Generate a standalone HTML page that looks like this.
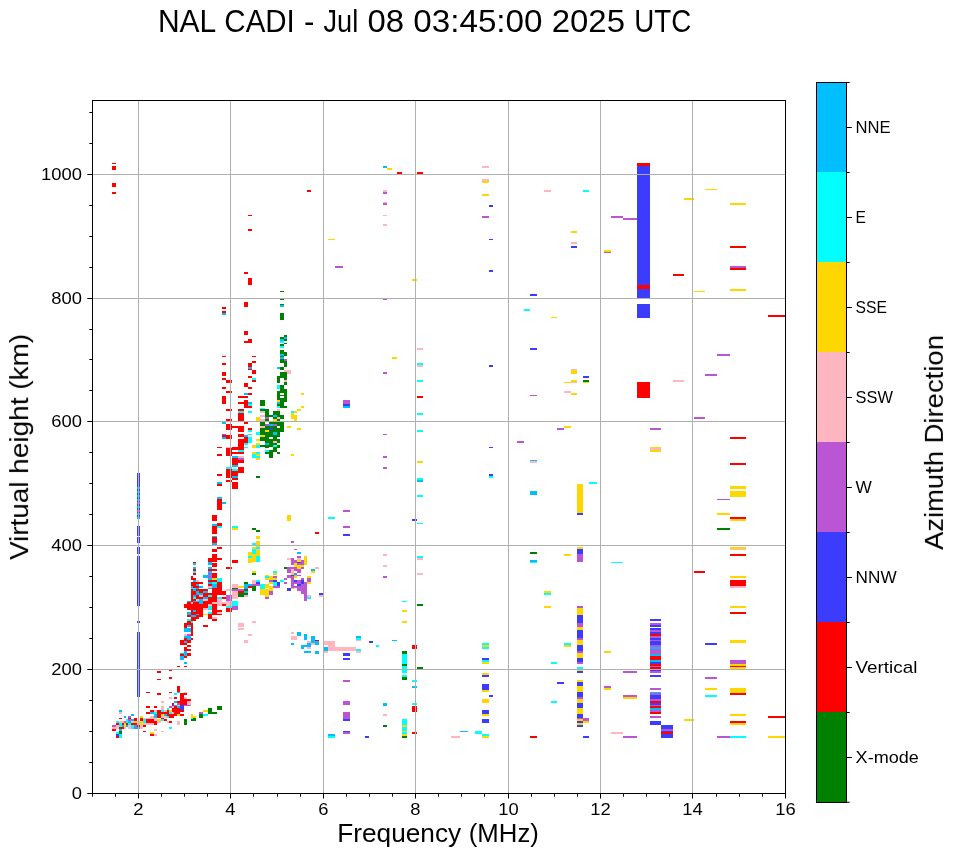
<!DOCTYPE html>
<html lang="en"><head><meta charset="utf-8"><title>NAL CADI - Jul 08 03:45:00 2025 UTC</title>
<style>
html,body{margin:0;padding:0;background:#fff;}
body{width:958px;height:857px;overflow:hidden;font-family:"Liberation Sans",sans-serif;}
svg{display:block;}
</style></head><body>
<svg width="958" height="857" viewBox="0 0 958 857">
<rect x="0" y="0" width="958" height="857" fill="#fff"/>
<g id="data" shape-rendering="crispEdges">
<path fill="#ff0000" d="M112 163h4v1h-4zM112 166h4v4h-4zM112 183h4v4h-4zM112 192h4v2h-4zM307 190h4v2h-4zM248 215h4v1h-4zM248 229h4v2h-4zM244 272h4v2h-4zM248 278h4v7h-4z"/>
<path fill="#008000" d="M280 291h4v1h-4z"/>
<path fill="#ffd700" d="M328 239h7v1h-7z"/>
<path fill="#ba55d3" d="M335 266h8v2h-8z"/>
<path fill="#00bfff" d="M383 166h4v2h-4z"/>
<path fill="#ffd700" d="M387 168h5v2h-5z"/>
<path fill="#ffb6c1" d="M383 190h4v2h-4z"/>
<path fill="#ba55d3" d="M383 192h4v2h-4z"/>
<path fill="#ffb6c1" d="M383 202h4v1h-4z"/>
<path fill="#ba55d3" d="M383 203h4v2h-4z"/>
<path fill="#ffb6c1" d="M383 215h4v1h-4zM383 224h4v2h-4z"/>
<path fill="#ff0000" d="M397 172h5v2h-5zM417 172h6v2h-6z"/>
<path fill="#ffb6c1" d="M482 166h7v2h-7zM482 179h7v2h-7z"/>
<path fill="#ffd700" d="M482 181h7v2h-7zM482 194h7v2h-7z"/>
<path fill="#3c3cff" d="M489 205h4v2h-4z"/>
<path fill="#ba55d3" d="M482 216h7v2h-7z"/>
<path fill="#3c3cff" d="M489 239h4v1h-4zM489 270h4v2h-4z"/>
<path fill="#ffd700" d="M412 279h5v2h-5z"/>
<path fill="#ffb6c1" d="M544 190h7v2h-7z"/>
<path fill="#00ffff" d="M583 190h6v2h-6z"/>
<path fill="#ba55d3" d="M611 216h12v2h-12zM623 218h14v2h-14z"/>
<path fill="#ffd700" d="M571 231h6v2h-6z"/>
<path fill="#ffb6c1" d="M571 242h6v2h-6z"/>
<path fill="#3c3cff" d="M571 246h6v2h-6z"/>
<path fill="#ffd700" d="M604 250h7v2h-7z"/>
<path fill="#ba55d3" d="M604 252h7v1h-7z"/>
<path fill="#ffd700" d="M705 189h12v1h-12zM684 198h10v2h-10zM730 203h16v2h-16z"/>
<path fill="#ff0000" d="M730 246h16v2h-16z"/>
<path fill="#ba55d3" d="M730 266h16v2h-16z"/>
<path fill="#ff0000" d="M730 268h16v2h-16zM673 274h11v2h-11z"/>
<path fill="#ffd700" d="M730 289h16v2h-16zM694 291h11v1h-11z"/>
<path fill="#3c3cff" d="M637 166h13v132h-13z"/>
<path fill="#ff0000" d="M637 163h13v3h-13zM637 285h13v4h-13z"/>
<path fill="#3c3cff" d="M637 304h13v14h-13z"/>
<path fill="#ff0000" d="M637 382h13v16h-13zM768 315h18v2h-18z"/>
<path fill="#ba55d3" d="M717 354h13v2h-13zM705 374h12v2h-12z"/>
<path fill="#ffb6c1" d="M673 380h11v2h-11z"/>
<path fill="#ba55d3" d="M694 417h11v2h-11zM650 428h11v2h-11z"/>
<path fill="#ffd700" d="M650 447h11v5h-11z"/>
<path fill="#ffb6c1" d="M650 448h11v2h-11z"/>
<path fill="#ff0000" d="M730 437h16v2h-16zM730 463h16v2h-16z"/>
<path fill="#ffd700" d="M730 486h16v3h-16zM730 491h16v6h-16z"/>
<path fill="#ba55d3" d="M717 499h13v1h-13z"/>
<path fill="#ffd700" d="M717 513h13v2h-13z"/>
<path fill="#ff0000" d="M730 517h16v2h-16z"/>
<path fill="#ffd700" d="M730 519h16v2h-16z"/>
<path fill="#008000" d="M717 528h13v2h-13z"/>
<path fill="#ffd700" d="M730 547h16v2h-16z"/>
<path fill="#ffb6c1" d="M730 549h16v1h-16z"/>
<path fill="#ff0000" d="M730 554h16v2h-16z"/>
<path fill="#ffd700" d="M730 576h16v2h-16z"/>
<path fill="#ff0000" d="M730 580h16v6h-16z"/>
<path fill="#ffb6c1" d="M730 586h16v2h-16z"/>
<path fill="#ffd700" d="M730 606h16v2h-16z"/>
<path fill="#ff0000" d="M730 612h16v2h-16z"/>
<path fill="#ffd700" d="M730 640h16v3h-16z"/>
<path fill="#ba55d3" d="M730 660h16v4h-16z"/>
<path fill="#ffd700" d="M730 664h16v5h-16z"/>
<path fill="#ff0000" d="M730 666h16v1h-16zM694 571h11v2h-11z"/>
<path fill="#3c3cff" d="M705 643h12v2h-12z"/>
<path fill="#ba55d3" d="M705 677h12v2h-12z"/>
<path fill="#ffd700" d="M705 688h12v2h-12z"/>
<path fill="#3c3cff" d="M650 619h11v2h-11z"/>
<path fill="#ba55d3" d="M650 623h11v2h-11z"/>
<path fill="#3c3cff" d="M650 625h11v2h-11zM650 628h11v2h-11z"/>
<path fill="#ba55d3" d="M650 630h11v2h-11z"/>
<path fill="#3c3cff" d="M650 632h11v2h-11z"/>
<path fill="#ff0000" d="M650 634h11v2h-11z"/>
<path fill="#ba55d3" d="M650 636h11v2h-11z"/>
<path fill="#3c3cff" d="M650 638h11v2h-11z"/>
<path fill="#ba55d3" d="M650 640h11v1h-11z"/>
<path fill="#3c3cff" d="M650 641h11v4h-11z"/>
<path fill="#ba55d3" d="M650 645h11v2h-11z"/>
<path fill="#00bfff" d="M650 647h11v2h-11z"/>
<path fill="#ba55d3" d="M650 649h11v5h-11z"/>
<path fill="#00bfff" d="M650 654h11v2h-11z"/>
<path fill="#ff0000" d="M650 656h11v4h-11z"/>
<path fill="#00bfff" d="M650 660h11v2h-11z"/>
<path fill="#3c3cff" d="M650 662h11v2h-11z"/>
<path fill="#ff0000" d="M650 664h11v2h-11z"/>
<path fill="#ba55d3" d="M650 666h11v1h-11z"/>
<path fill="#ff0000" d="M650 667h11v2h-11z"/>
<path fill="#3c3cff" d="M650 670h11v1h-11z"/>
<path fill="#ba55d3" d="M650 671h11v2h-11z"/>
<path fill="#3c3cff" d="M650 675h11v2h-11z"/>
<path fill="#ba55d3" d="M623 671h14v2h-14z"/>
<path fill="#ffd700" d="M730 688h16v5h-16z"/>
<path fill="#ff0000" d="M730 693h16v2h-16z"/>
<path fill="#ffd700" d="M730 714h16v2h-16z"/>
<path fill="#ff0000" d="M730 721h16v2h-16z"/>
<path fill="#ffd700" d="M730 723h16v2h-16z"/>
<path fill="#00ffff" d="M730 736h16v2h-16z"/>
<path fill="#ba55d3" d="M717 736h13v2h-13z"/>
<path fill="#00ffff" d="M705 695h12v2h-12z"/>
<path fill="#ffd700" d="M684 719h10v2h-10z"/>
<path fill="#ff0000" d="M768 716h18v2h-18z"/>
<path fill="#ffd700" d="M768 736h18v2h-18z"/>
<path fill="#ba55d3" d="M650 688h11v2h-11z"/>
<path fill="#00bfff" d="M650 692h11v1h-11z"/>
<path fill="#ba55d3" d="M650 693h11v2h-11z"/>
<path fill="#3c3cff" d="M650 695h11v4h-11z"/>
<path fill="#ba55d3" d="M650 699h11v2h-11z"/>
<path fill="#ff0000" d="M650 701h11v2h-11z"/>
<path fill="#3c3cff" d="M650 703h11v2h-11z"/>
<path fill="#ba55d3" d="M650 705h11v1h-11z"/>
<path fill="#ff0000" d="M650 706h11v2h-11z"/>
<path fill="#00bfff" d="M650 708h11v2h-11z"/>
<path fill="#ba55d3" d="M650 710h11v2h-11z"/>
<path fill="#ff0000" d="M650 712h11v2h-11z"/>
<path fill="#ba55d3" d="M650 716h11v2h-11z"/>
<path fill="#3c3cff" d="M650 721h11v4h-11zM661 725h12v13h-12z"/>
<path fill="#ba55d3" d="M661 729h12v2h-12z"/>
<path fill="#ff0000" d="M661 732h12v2h-12z"/>
<path fill="#ba55d3" d="M623 695h14v2h-14z"/>
<path fill="#ffd700" d="M623 697h14v2h-14z"/>
<path fill="#ffb6c1" d="M611 732h12v2h-12z"/>
<path fill="#ba55d3" d="M623 736h14v2h-14z"/>
<path fill="#3c3cff" d="M530 294h7v2h-7z"/>
<path fill="#00ffff" d="M524 309h6v2h-6z"/>
<path fill="#ffd700" d="M551 317h6v1h-6z"/>
<path fill="#3c3cff" d="M530 348h7v2h-7zM489 365h4v2h-4z"/>
<path fill="#ffb6c1" d="M571 369h6v1h-6z"/>
<path fill="#ffd700" d="M571 370h6v4h-6z"/>
<path fill="#3c3cff" d="M583 376h6v2h-6z"/>
<path fill="#008000" d="M583 380h6v2h-6z"/>
<path fill="#ffd700" d="M583 382h6v1h-6zM571 380h6v2h-6z"/>
<path fill="#ffb6c1" d="M571 382h6v1h-6z"/>
<path fill="#ffd700" d="M564 382h7v1h-7z"/>
<path fill="#ffb6c1" d="M564 391h7v2h-7z"/>
<path fill="#ffd700" d="M571 393h6v2h-6z"/>
<path fill="#ba55d3" d="M530 395h7v1h-7z"/>
<path fill="#ffd700" d="M564 426h7v2h-7z"/>
<path fill="#ba55d3" d="M557 428h7v2h-7zM517 441h7v2h-7z"/>
<path fill="#3c3cff" d="M489 447h4v1h-4z"/>
<path fill="#00bfff" d="M530 460h7v1h-7z"/>
<path fill="#ffb6c1" d="M530 461h7v2h-7z"/>
<path fill="#3c3cff" d="M489 474h4v2h-4z"/>
<path fill="#00ffff" d="M489 476h4v2h-4z"/>
<path fill="#00bfff" d="M530 491h7v4h-7z"/>
<path fill="#00ffff" d="M589 482h8v2h-8z"/>
<path fill="#ffd700" d="M577 484h6v29h-6z"/>
<path fill="#3c3cff" d="M577 513h6v2h-6z"/>
<path fill="#008000" d="M530 552h7v2h-7z"/>
<path fill="#ffd700" d="M564 554h7v2h-7z"/>
<path fill="#00bfff" d="M530 560h7v2h-7z"/>
<path fill="#00ffff" d="M530 562h7v1h-7zM611 562h12v1h-12z"/>
<path fill="#ffd700" d="M544 591h7v2h-7z"/>
<path fill="#00ffff" d="M544 593h7v2h-7z"/>
<path fill="#ffd700" d="M544 606h7v2h-7z"/>
<path fill="#00ffff" d="M482 643h7v2h-7z"/>
<path fill="#ffd700" d="M482 645h7v2h-7z"/>
<path fill="#00ffff" d="M482 647h7v2h-7z"/>
<path fill="#3c3cff" d="M482 658h7v2h-7z"/>
<path fill="#00ffff" d="M482 660h7v2h-7z"/>
<path fill="#ffd700" d="M482 662h7v2h-7zM482 673h7v2h-7z"/>
<path fill="#3c3cff" d="M482 675h7v2h-7z"/>
<path fill="#00ffff" d="M564 643h7v2h-7z"/>
<path fill="#ffd700" d="M564 645h7v2h-7zM604 651h7v2h-7z"/>
<path fill="#00ffff" d="M551 662h6v2h-6z"/>
<path fill="#ffd700" d="M577 547h6v2h-6z"/>
<path fill="#3c3cff" d="M577 549h6v5h-6z"/>
<path fill="#ba55d3" d="M577 554h6v8h-6zM577 606h6v2h-6z"/>
<path fill="#ffd700" d="M577 608h6v7h-6z"/>
<path fill="#3c3cff" d="M577 615h6v8h-6z"/>
<path fill="#ba55d3" d="M577 623h6v4h-6z"/>
<path fill="#ffd700" d="M577 627h6v3h-6z"/>
<path fill="#3c3cff" d="M577 630h6v8h-6z"/>
<path fill="#ba55d3" d="M577 638h6v2h-6z"/>
<path fill="#ffd700" d="M577 640h6v5h-6z"/>
<path fill="#3c3cff" d="M577 645h6v6h-6z"/>
<path fill="#ba55d3" d="M577 651h6v2h-6z"/>
<path fill="#ffd700" d="M577 653h6v5h-6z"/>
<path fill="#3c3cff" d="M577 658h6v4h-6z"/>
<path fill="#ba55d3" d="M577 662h6v2h-6z"/>
<path fill="#00ffff" d="M577 667h6v2h-6z"/>
<path fill="#ffd700" d="M577 670h6v1h-6z"/>
<path fill="#3c3cff" d="M577 671h6v2h-6z"/>
<path fill="#ffd700" d="M577 680h6v2h-6z"/>
<path fill="#3c3cff" d="M577 682h6v4h-6z"/>
<path fill="#ffd700" d="M577 686h6v6h-6z"/>
<path fill="#3c3cff" d="M577 692h6v5h-6z"/>
<path fill="#ba55d3" d="M577 697h6v2h-6z"/>
<path fill="#ffd700" d="M577 699h6v4h-6z"/>
<path fill="#3c3cff" d="M577 703h6v5h-6z"/>
<path fill="#ffd700" d="M577 708h6v6h-6z"/>
<path fill="#3c3cff" d="M577 714h6v4h-6z"/>
<path fill="#ba55d3" d="M577 718h6v1h-6z"/>
<path fill="#ffd700" d="M577 719h6v2h-6z"/>
<path fill="#3c3cff" d="M577 721h6v2h-6z"/>
<path fill="#ffd700" d="M577 723h6v2h-6z"/>
<path fill="#3c3cff" d="M577 725h6v2h-6z"/>
<path fill="#ba55d3" d="M583 718h6v3h-6z"/>
<path fill="#ffd700" d="M583 721h6v2h-6z"/>
<path fill="#3c3cff" d="M557 682h7v2h-7z"/>
<path fill="#00ffff" d="M551 701h6v2h-6z"/>
<path fill="#ba55d3" d="M604 686h7v2h-7z"/>
<path fill="#ffd700" d="M604 688h7v2h-7z"/>
<path fill="#3c3cff" d="M482 684h7v6h-7z"/>
<path fill="#ffd700" d="M482 690h7v2h-7z"/>
<path fill="#3c3cff" d="M489 695h4v2h-4z"/>
<path fill="#ffd700" d="M482 699h7v4h-7z"/>
<path fill="#3c3cff" d="M482 710h7v4h-7z"/>
<path fill="#ffd700" d="M482 714h7v2h-7z"/>
<path fill="#3c3cff" d="M482 719h7v4h-7z"/>
<path fill="#00ffff" d="M475 731h7v3h-7zM482 734h7v2h-7z"/>
<path fill="#ffd700" d="M482 736h7v2h-7z"/>
<path fill="#00bfff" d="M460 731h8v1h-8z"/>
<path fill="#ffb6c1" d="M451 736h9v2h-9z"/>
<path fill="#ff0000" d="M530 736h7v2h-7z"/>
<path fill="#3c3cff" d="M583 736h6v2h-6z"/>
<path fill="#ba55d3" d="M383 299h4v1h-4z"/>
<path fill="#ffb6c1" d="M417 348h6v2h-6z"/>
<path fill="#ffd700" d="M392 357h5v2h-5z"/>
<path fill="#00ffff" d="M417 363h6v2h-6z"/>
<path fill="#ffb6c1" d="M417 365h6v2h-6z"/>
<path fill="#ba55d3" d="M383 372h4v2h-4z"/>
<path fill="#00ffff" d="M417 380h6v2h-6z"/>
<path fill="#ff0000" d="M417 396h6v2h-6z"/>
<path fill="#00ffff" d="M417 413h6v2h-6z"/>
<path fill="#ba55d3" d="M343 400h7v4h-7z"/>
<path fill="#3c3cff" d="M343 404h7v2h-7z"/>
<path fill="#00bfff" d="M343 406h7v2h-7z"/>
<path fill="#00ffff" d="M417 430h6v2h-6z"/>
<path fill="#ba55d3" d="M383 434h4v1h-4zM383 456h4v2h-4zM383 467h4v2h-4z"/>
<path fill="#ffd700" d="M417 461h6v2h-6z"/>
<path fill="#00ffff" d="M417 478h6v2h-6z"/>
<path fill="#00bfff" d="M417 480h6v2h-6z"/>
<path fill="#00ffff" d="M417 495h6v2h-6z"/>
<path fill="#ba55d3" d="M343 510h7v2h-7z"/>
<path fill="#00ffff" d="M328 517h7v2h-7z"/>
<path fill="#ba55d3" d="M343 526h7v2h-7z"/>
<path fill="#3c3cff" d="M343 534h7v2h-7zM412 519h5v2h-5z"/>
<path fill="#00ffff" d="M417 523h6v1h-6z"/>
<path fill="#ffb6c1" d="M383 554h4v2h-4zM383 565h4v2h-4z"/>
<path fill="#ba55d3" d="M383 576h4v2h-4z"/>
<path fill="#00ffff" d="M417 556h6v2h-6z"/>
<path fill="#ffb6c1" d="M417 558h6v2h-6zM417 573h6v2h-6z"/>
<path fill="#00ffff" d="M402 601h5v1h-5z"/>
<path fill="#ffd700" d="M402 610h5v2h-5zM402 621h5v2h-5z"/>
<path fill="#008000" d="M417 604h6v2h-6z"/>
<path fill="#3c3cff" d="M369 641h4v2h-4z"/>
<path fill="#00bfff" d="M392 640h5v1h-5z"/>
<path fill="#00ffff" d="M376 645h3v2h-3z"/>
<path fill="#ff0000" d="M412 645h5v4h-5z"/>
<path fill="#008000" d="M417 667h6v2h-6zM402 651h5v3h-5z"/>
<path fill="#00ffff" d="M402 654h5v10h-5z"/>
<path fill="#008000" d="M402 664h5v2h-5z"/>
<path fill="#00ffff" d="M402 666h5v7h-5zM402 675h5v2h-5z"/>
<path fill="#008000" d="M402 677h5v3h-5z"/>
<path fill="#00ffff" d="M412 680h5v2h-5z"/>
<path fill="#00bfff" d="M412 686h5v2h-5z"/>
<path fill="#00ffff" d="M412 703h5v2h-5z"/>
<path fill="#ff0000" d="M412 706h5v6h-5zM412 732h5v2h-5z"/>
<path fill="#00bfff" d="M383 703h4v3h-4z"/>
<path fill="#ffb6c1" d="M383 714h4v2h-4z"/>
<path fill="#008000" d="M383 725h4v2h-4z"/>
<path fill="#00ffff" d="M402 719h5v6h-5z"/>
<path fill="#ffd700" d="M402 725h5v2h-5z"/>
<path fill="#00ffff" d="M402 727h5v4h-5z"/>
<path fill="#ffd700" d="M402 731h5v1h-5z"/>
<path fill="#00ffff" d="M402 732h5v2h-5z"/>
<path fill="#ffd700" d="M402 734h5v2h-5z"/>
<path fill="#008000" d="M402 736h5v2h-5z"/>
<path fill="#ffb6c1" d="M324 641h11v4h-11zM328 645h7v2h-7zM328 647h28v4h-28z"/>
<path fill="#00bfff" d="M324 647h4v4h-4z"/>
<path fill="#ffb6c1" d="M324 651h4v2h-4z"/>
<path fill="#00bfff" d="M356 636h5v2h-5z"/>
<path fill="#00ffff" d="M356 638h5v2h-5z"/>
<path fill="#ffb6c1" d="M356 640h5v1h-5z"/>
<path fill="#00ffff" d="M356 649h5v2h-5z"/>
<path fill="#ffb6c1" d="M356 651h5v2h-5z"/>
<path fill="#3c3cff" d="M343 653h7v3h-7zM343 658h7v2h-7z"/>
<path fill="#ba55d3" d="M343 680h7v2h-7zM343 701h7v4h-7zM343 712h7v7h-7z"/>
<path fill="#3c3cff" d="M343 719h7v2h-7zM343 731h7v1h-7z"/>
<path fill="#ba55d3" d="M343 732h7v2h-7z"/>
<path fill="#00bfff" d="M328 734h7v2h-7z"/>
<path fill="#00ffff" d="M328 736h7v2h-7z"/>
<path fill="#3c3cff" d="M365 736h4v2h-4z"/>
<path fill="#008000" d="M280 299h4v1h-4zM280 304h4v1h-4z"/>
<path fill="#00bfff" d="M280 305h4v2h-4z"/>
<path fill="#008000" d="M280 313h4v7h-4z"/>
<path fill="#ff0000" d="M244 302h4v5h-4zM222 307h4v2h-4zM222 311h4v2h-4z"/>
<path fill="#00bfff" d="M222 313h4v2h-4z"/>
<path fill="#ff0000" d="M244 331h4v4h-4zM248 339h4v4h-4zM244 341h4v2h-4zM222 356h4v1h-4zM252 356h4v1h-4z"/>
<path fill="#008000" d="M284 335h3v2h-3zM280 337h4v2h-4z"/>
<path fill="#00bfff" d="M284 337h3v2h-3zM280 339h4v2h-4z"/>
<path fill="#008000" d="M284 339h3v2h-3z"/>
<path fill="#00ffff" d="M280 341h4v2h-4z"/>
<path fill="#008000" d="M284 343h3v1h-3zM280 344h4v2h-4z"/>
<path fill="#00ffff" d="M280 346h4v2h-4z"/>
<path fill="#008000" d="M280 350h4v4h-4zM284 352h3v4h-3z"/>
<path fill="#00bfff" d="M280 354h4v2h-4z"/>
<path fill="#00ffff" d="M280 356h4v2h-4z"/>
<path fill="#3c3cff" d="M137 473h3v46h-3z"/>
<path fill="#00bfff" d="M137 487h3v2h-3zM137 491h3v2h-3zM137 495h3v2h-3zM137 499h3v2h-3z"/>
<path fill="#ba55d3" d="M137 502h3v2h-3z"/>
<path fill="#00bfff" d="M137 506h3v2h-3z"/>
<path fill="#ba55d3" d="M137 510h3v2h-3z"/>
<path fill="#00bfff" d="M137 513h3v2h-3zM137 517h3v2h-3z"/>
<path fill="#3c3cff" d="M137 526h3v10h-3zM137 537h3v6h-3zM137 547h3v7h-3zM137 556h3v50h-3zM137 621h3v2h-3zM137 632h3v65h-3z"/>
<path fill="#ffd700" d="M287 515h4v6h-4z"/>
<path fill="#ff0000" d="M315 532h4v2h-4z"/>
<path fill="#ffb6c1" d="M248 634h4v2h-4zM244 640h4v3h-4zM291 632h3v2h-3zM291 636h6v4h-6z"/>
<path fill="#00bfff" d="M291 643h3v2h-3zM297 632h4v4h-4zM304 634h3v6h-3zM311 636h4v7h-4z"/>
<path fill="#ff0000" d="M315 640h4v1h-4z"/>
<path fill="#00bfff" d="M315 641h4v4h-4z"/>
<path fill="#ffb6c1" d="M307 641h4v2h-4zM311 643h4v2h-4z"/>
<path fill="#00bfff" d="M307 643h4v4h-4zM301 645h3v4h-3zM304 645h3v2h-3z"/>
<path fill="#ffb6c1" d="M307 647h4v2h-4z"/>
<path fill="#00bfff" d="M304 651h7v2h-7zM315 651h4v3h-4z"/>
<path fill="#ffd700" d="M291 454h3v2h-3z"/>
<path fill="#00ffff" d="M291 411h3v2h-3z"/>
<path fill="#ffd700" d="M291 413h3v6h-3z"/>
<path fill="#ff0000" d="M157 671h4v2h-4zM222 356h4v1h-4zM222 363h4v2h-4zM222 372h4v4h-4zM222 378h4v2h-4zM222 387h4v2h-4zM222 396h4v8h-4zM226 380h6v3h-6zM226 391h6v2h-6zM226 409h6v2h-6zM238 396h10v2h-10zM238 402h6v2h-6zM238 409h6v2h-6z"/>
<path fill="#00ffff" d="M238 411h6v1h-6z"/>
<path fill="#ff0000" d="M244 341h8v2h-8zM244 383h4v4h-4z"/>
<path fill="#00bfff" d="M244 393h4v2h-4z"/>
<path fill="#ff0000" d="M244 400h4v8h-4zM248 340h4v3h-4zM248 363h4v4h-4z"/>
<path fill="#00bfff" d="M248 367h4v2h-4z"/>
<path fill="#ff0000" d="M248 369h4v1h-4zM248 376h4v2h-4zM248 387h4v2h-4zM248 393h4v2h-4z"/>
<path fill="#00bfff" d="M248 402h4v2h-4z"/>
<path fill="#00ffff" d="M248 404h4v2h-4z"/>
<path fill="#ff0000" d="M248 406h4v2h-4z"/>
<path fill="#00ffff" d="M248 411h4v1h-4z"/>
<path fill="#ff0000" d="M252 356h4v1h-4zM252 361h4v2h-4zM252 370h4v4h-4z"/>
<path fill="#00ffff" d="M252 378h4v2h-4z"/>
<path fill="#ff0000" d="M252 380h4v2h-4z"/>
<path fill="#008000" d="M260 400h5v6h-5z"/>
<path fill="#00ffff" d="M260 408h5v1h-5z"/>
<path fill="#008000" d="M260 409h9v2h-9z"/>
<path fill="#ffb6c1" d="M260 411h5v1h-5z"/>
<path fill="#008000" d="M265 411h4v1h-4zM273 411h7v1h-7z"/>
<path fill="#00bfff" d="M277 367h3v2h-3z"/>
<path fill="#008000" d="M277 376h3v7h-3z"/>
<path fill="#00ffff" d="M277 385h3v4h-3z"/>
<path fill="#008000" d="M277 391h3v9h-3z"/>
<path fill="#ffd700" d="M277 400h3v2h-3z"/>
<path fill="#00bfff" d="M277 402h3v2h-3z"/>
<path fill="#008000" d="M277 404h3v2h-3z"/>
<path fill="#00ffff" d="M277 406h3v2h-3z"/>
<path fill="#ffb6c1" d="M277 409h3v2h-3z"/>
<path fill="#00bfff" d="M280 340h4v1h-4z"/>
<path fill="#00ffff" d="M280 341h4v2h-4z"/>
<path fill="#008000" d="M280 344h4v2h-4z"/>
<path fill="#00ffff" d="M280 346h4v2h-4z"/>
<path fill="#008000" d="M280 350h4v4h-4z"/>
<path fill="#00bfff" d="M280 354h4v2h-4z"/>
<path fill="#008000" d="M280 356h4v1h-4z"/>
<path fill="#00bfff" d="M280 357h4v2h-4z"/>
<path fill="#008000" d="M280 359h4v4h-4zM280 367h4v3h-4zM280 372h4v6h-4zM280 385h4v8h-4zM280 395h4v1h-4zM280 398h4v4h-4zM280 402h4v6h-4zM284 340h3v1h-3zM284 343h3v1h-3zM284 352h3v4h-3z"/>
<path fill="#ba55d3" d="M284 359h3v2h-3z"/>
<path fill="#008000" d="M284 361h3v6h-3z"/>
<path fill="#ffb6c1" d="M284 370h7v2h-7zM287 372h4v2h-4z"/>
<path fill="#008000" d="M284 372h3v8h-3z"/>
<path fill="#ffb6c1" d="M284 380h3v2h-3z"/>
<path fill="#008000" d="M284 382h3v3h-3zM284 389h3v13h-3zM284 406h3v2h-3z"/>
<path fill="#ff0000" d="M217 447h5v1h-5zM217 454h5v2h-5zM217 474h5v2h-5z"/>
<path fill="#00bfff" d="M222 422h4v2h-4z"/>
<path fill="#ba55d3" d="M222 434h4v1h-4z"/>
<path fill="#ff0000" d="M222 435h4v2h-4z"/>
<path fill="#00bfff" d="M222 437h4v2h-4z"/>
<path fill="#ff0000" d="M226 409h6v2h-6zM226 419h6v2h-6zM226 424h6v6h-6zM226 435h6v4h-6z"/>
<path fill="#ffb6c1" d="M226 447h6v1h-6z"/>
<path fill="#ff0000" d="M226 448h6v8h-6z"/>
<path fill="#00ffff" d="M226 467h6v2h-6z"/>
<path fill="#ff0000" d="M226 469h6v8h-6zM232 426h12v2h-12zM232 447h12v3h-12zM232 452h12v2h-12z"/>
<path fill="#00bfff" d="M232 456h6v2h-6z"/>
<path fill="#ff0000" d="M232 458h6v7h-6z"/>
<path fill="#00bfff" d="M232 465h6v2h-6z"/>
<path fill="#00ffff" d="M232 469h6v2h-6z"/>
<path fill="#ff0000" d="M232 471h6v5h-6z"/>
<path fill="#00bfff" d="M232 476h6v1h-6z"/>
<path fill="#ff0000" d="M238 409h6v2h-6z"/>
<path fill="#00ffff" d="M238 411h6v2h-6z"/>
<path fill="#ff0000" d="M238 413h6v8h-6zM238 426h6v6h-6zM238 434h6v3h-6zM238 439h6v11h-6z"/>
<path fill="#00ffff" d="M238 450h6v2h-6z"/>
<path fill="#ffb6c1" d="M238 456h6v2h-6z"/>
<path fill="#ba55d3" d="M238 458h6v2h-6z"/>
<path fill="#ff0000" d="M238 460h6v3h-6zM238 467h6v6h-6zM244 405h8v3h-8z"/>
<path fill="#00ffff" d="M248 405h4v1h-4z"/>
<path fill="#ff0000" d="M244 422h4v2h-4z"/>
<path fill="#00bfff" d="M244 435h4v2h-4z"/>
<path fill="#ff0000" d="M244 437h4v6h-4z"/>
<path fill="#00ffff" d="M244 443h4v2h-4zM244 447h4v1h-4zM248 411h4v2h-4z"/>
<path fill="#ff0000" d="M248 428h4v2h-4z"/>
<path fill="#00ffff" d="M248 430h4v2h-4zM248 434h4v1h-4zM248 437h4v6h-4z"/>
<path fill="#ffd700" d="M252 445h4v3h-4zM252 452h4v2h-4z"/>
<path fill="#00ffff" d="M252 454h4v4h-4z"/>
<path fill="#ffd700" d="M256 417h4v4h-4z"/>
<path fill="#00ffff" d="M256 432h4v3h-4z"/>
<path fill="#ffd700" d="M256 439h4v2h-4zM256 443h4v2h-4z"/>
<path fill="#00ffff" d="M256 445h4v3h-4zM256 452h4v2h-4z"/>
<path fill="#ffd700" d="M256 454h4v2h-4z"/>
<path fill="#00ffff" d="M256 456h4v2h-4z"/>
<path fill="#ffd700" d="M256 458h4v2h-4z"/>
<path fill="#008000" d="M256 476h4v1h-4zM260 405h5v1h-5z"/>
<path fill="#00ffff" d="M260 408h5v1h-5z"/>
<path fill="#008000" d="M260 409h9v2h-9z"/>
<path fill="#ffb6c1" d="M260 411h5v2h-5zM260 415h5v2h-5zM260 419h5v2h-5z"/>
<path fill="#008000" d="M260 422h5v4h-5z"/>
<path fill="#ffb6c1" d="M260 426h5v2h-5z"/>
<path fill="#008000" d="M260 428h5v7h-5z"/>
<path fill="#ffd700" d="M260 435h5v2h-5z"/>
<path fill="#008000" d="M260 437h5v4h-5zM260 445h5v2h-5zM265 411h4v6h-4z"/>
<path fill="#ba55d3" d="M265 417h4v2h-4z"/>
<path fill="#008000" d="M265 419h4v2h-4z"/>
<path fill="#ba55d3" d="M265 424h4v2h-4z"/>
<path fill="#008000" d="M265 426h4v4h-4z"/>
<path fill="#ffd700" d="M265 430h4v2h-4z"/>
<path fill="#008000" d="M265 432h4v11h-4z"/>
<path fill="#00bfff" d="M265 443h4v2h-4z"/>
<path fill="#008000" d="M265 445h4v3h-4z"/>
<path fill="#00ffff" d="M265 450h4v2h-4z"/>
<path fill="#008000" d="M265 452h4v2h-4zM269 415h4v2h-4zM269 422h4v2h-4z"/>
<path fill="#00bfff" d="M269 424h4v2h-4z"/>
<path fill="#008000" d="M269 426h4v2h-4z"/>
<path fill="#3c3cff" d="M269 428h4v2h-4z"/>
<path fill="#008000" d="M269 430h4v7h-4zM269 439h4v8h-4zM269 450h4v8h-4zM273 411h4v4h-4z"/>
<path fill="#00bfff" d="M273 415h4v2h-4z"/>
<path fill="#008000" d="M273 417h4v2h-4z"/>
<path fill="#ffd700" d="M273 419h4v2h-4z"/>
<path fill="#008000" d="M273 422h4v2h-4z"/>
<path fill="#ba55d3" d="M273 424h4v2h-4z"/>
<path fill="#008000" d="M273 426h4v6h-4z"/>
<path fill="#00bfff" d="M273 432h4v3h-4z"/>
<path fill="#008000" d="M273 435h4v6h-4z"/>
<path fill="#ffb6c1" d="M273 441h4v2h-4z"/>
<path fill="#008000" d="M273 443h4v2h-4z"/>
<path fill="#00ffff" d="M273 445h4v2h-4z"/>
<path fill="#008000" d="M273 447h4v5h-4z"/>
<path fill="#00ffff" d="M277 406h3v2h-3z"/>
<path fill="#ffb6c1" d="M277 409h3v2h-3z"/>
<path fill="#008000" d="M277 411h3v6h-3z"/>
<path fill="#ffb6c1" d="M277 417h3v2h-3z"/>
<path fill="#008000" d="M277 419h3v2h-3zM277 422h3v4h-3zM277 428h3v9h-3zM277 439h3v4h-3zM277 445h3v3h-3zM277 452h3v2h-3zM280 405h4v3h-4zM284 406h3v2h-3zM280 415h4v4h-4zM280 422h4v10h-4z"/>
<path fill="#ffd700" d="M287 426h4v2h-4z"/>
<path fill="#00ffff" d="M291 411h1v2h-1z"/>
<path fill="#ffd700" d="M291 413h1v6h-1zM291 454h1v2h-1zM301 393h3v2h-3zM301 406h3v2h-3zM297 409h4v2h-4z"/>
<path fill="#00ffff" d="M291 411h3v2h-3z"/>
<path fill="#ffd700" d="M294 411h3v2h-3zM291 415h6v4h-6zM294 419h3v2h-3zM287 426h4v2h-4zM297 428h4v2h-4z"/>
<path fill="#ff0000" d="M217 474h5v2h-5z"/>
<path fill="#00bfff" d="M217 482h5v2h-5z"/>
<path fill="#ff0000" d="M217 484h5v2h-5z"/>
<path fill="#00bfff" d="M217 497h5v2h-5z"/>
<path fill="#ff0000" d="M217 499h5v11h-5z"/>
<path fill="#00bfff" d="M222 502h4v2h-4z"/>
<path fill="#ff0000" d="M212 515h5v6h-5z"/>
<path fill="#00bfff" d="M212 524h5v2h-5z"/>
<path fill="#ff0000" d="M212 526h5v8h-5zM217 523h5v3h-5z"/>
<path fill="#00ffff" d="M217 526h5v2h-5z"/>
<path fill="#00bfff" d="M212 536h5v1h-5z"/>
<path fill="#ff0000" d="M212 537h5v5h-5zM226 470h6v8h-6zM226 480h6v2h-6z"/>
<path fill="#00ffff" d="M232 470h6v1h-6z"/>
<path fill="#ff0000" d="M232 471h6v5h-6z"/>
<path fill="#00bfff" d="M232 476h6v2h-6z"/>
<path fill="#ff0000" d="M232 478h6v2h-6zM232 482h6v7h-6zM238 470h6v3h-6z"/>
<path fill="#008000" d="M256 476h4v2h-4z"/>
<path fill="#00ffff" d="M232 526h6v2h-6z"/>
<path fill="#ffd700" d="M232 528h6v2h-6z"/>
<path fill="#008000" d="M252 528h4v2h-4zM256 530h4v2h-4z"/>
<path fill="#ffd700" d="M256 536h4v3h-4zM256 541h4v1h-4z"/>
<path fill="#ff0000" d="M193 562h3v1h-3z"/>
<path fill="#00bfff" d="M193 563h3v2h-3zM193 567h3v2h-3z"/>
<path fill="#ff0000" d="M193 569h3v2h-3z"/>
<path fill="#00ffff" d="M193 571h3v2h-3z"/>
<path fill="#ff0000" d="M193 573h3v2h-3zM191 576h2v2h-2zM191 578h5v2h-5z"/>
<path fill="#00bfff" d="M193 580h3v2h-3z"/>
<path fill="#ffb6c1" d="M196 580h3v2h-3z"/>
<path fill="#ff0000" d="M191 582h12v2h-12zM191 584h5v2h-5z"/>
<path fill="#00bfff" d="M196 584h3v2h-3zM191 586h2v2h-2z"/>
<path fill="#ff0000" d="M193 586h6v2h-6z"/>
<path fill="#00bfff" d="M199 586h4v2h-4zM203 575h5v3h-5z"/>
<path fill="#ff0000" d="M208 558h4v4h-4z"/>
<path fill="#00bfff" d="M208 562h4v3h-4zM208 567h4v2h-4z"/>
<path fill="#ff0000" d="M208 569h4v2h-4z"/>
<path fill="#00bfff" d="M208 571h4v2h-4z"/>
<path fill="#ba55d3" d="M208 573h4v2h-4z"/>
<path fill="#00bfff" d="M208 575h4v1h-4z"/>
<path fill="#ba55d3" d="M208 576h4v2h-4z"/>
<path fill="#00bfff" d="M208 578h4v2h-4z"/>
<path fill="#ff0000" d="M208 580h4v2h-4z"/>
<path fill="#00bfff" d="M208 582h4v2h-4z"/>
<path fill="#ff0000" d="M208 584h4v2h-4z"/>
<path fill="#ffb6c1" d="M208 586h4v2h-4z"/>
<path fill="#00bfff" d="M212 536h5v1h-5z"/>
<path fill="#ff0000" d="M212 537h5v6h-5z"/>
<path fill="#00bfff" d="M212 543h5v2h-5z"/>
<path fill="#ff0000" d="M212 549h5v3h-5zM212 554h5v8h-5zM212 563h5v4h-5zM212 569h5v2h-5zM212 573h5v5h-5z"/>
<path fill="#ffd700" d="M212 578h5v2h-5z"/>
<path fill="#ff0000" d="M212 580h5v2h-5z"/>
<path fill="#00ffff" d="M212 582h5v2h-5z"/>
<path fill="#00bfff" d="M212 584h5v4h-5z"/>
<path fill="#ff0000" d="M217 547h5v2h-5zM217 558h5v2h-5z"/>
<path fill="#00ffff" d="M217 578h5v4h-5z"/>
<path fill="#ff0000" d="M217 582h5v6h-5zM226 567h6v2h-6zM232 560h6v3h-6z"/>
<path fill="#ffb6c1" d="M232 584h6v4h-6z"/>
<path fill="#ffd700" d="M238 586h2v2h-2z"/>
<path fill="#00bfff" d="M193 580h3v2h-3z"/>
<path fill="#ffb6c1" d="M196 580h3v2h-3z"/>
<path fill="#ff0000" d="M208 580h9v2h-9z"/>
<path fill="#00ffff" d="M217 580h5v2h-5z"/>
<path fill="#ff0000" d="M191 582h12v2h-12z"/>
<path fill="#00bfff" d="M208 582h4v2h-4z"/>
<path fill="#00ffff" d="M212 582h5v2h-5z"/>
<path fill="#ff0000" d="M217 582h5v2h-5zM191 584h5v2h-5z"/>
<path fill="#00bfff" d="M196 584h3v2h-3z"/>
<path fill="#ff0000" d="M208 584h4v2h-4z"/>
<path fill="#00bfff" d="M212 584h5v2h-5z"/>
<path fill="#ff0000" d="M217 584h5v2h-5z"/>
<path fill="#00bfff" d="M191 586h2v2h-2z"/>
<path fill="#ff0000" d="M193 586h6v2h-6z"/>
<path fill="#00bfff" d="M199 586h4v2h-4z"/>
<path fill="#ffb6c1" d="M208 586h4v2h-4z"/>
<path fill="#00bfff" d="M212 586h5v2h-5z"/>
<path fill="#ff0000" d="M217 586h5v2h-5z"/>
<path fill="#00ffff" d="M191 588h5v1h-5z"/>
<path fill="#00bfff" d="M196 588h3v1h-3zM208 588h4v1h-4z"/>
<path fill="#ff0000" d="M212 588h10v1h-10zM191 589h2v2h-2z"/>
<path fill="#00bfff" d="M193 589h3v2h-3z"/>
<path fill="#ff0000" d="M196 589h12v2h-12zM212 589h10v2h-10z"/>
<path fill="#ffb6c1" d="M226 589h4v2h-4z"/>
<path fill="#ff0000" d="M191 591h5v2h-5z"/>
<path fill="#00bfff" d="M196 591h3v2h-3z"/>
<path fill="#ff0000" d="M199 591h4v2h-4z"/>
<path fill="#00bfff" d="M203 591h5v2h-5z"/>
<path fill="#ff0000" d="M212 591h14v2h-14zM191 593h5v2h-5z"/>
<path fill="#00bfff" d="M196 593h7v2h-7z"/>
<path fill="#ff0000" d="M203 593h23v2h-23zM191 595h2v2h-2z"/>
<path fill="#00bfff" d="M193 595h3v2h-3z"/>
<path fill="#ff0000" d="M196 595h3v2h-3z"/>
<path fill="#ffb6c1" d="M199 595h4v2h-4z"/>
<path fill="#ff0000" d="M203 595h5v2h-5z"/>
<path fill="#00ffff" d="M208 595h4v2h-4z"/>
<path fill="#ff0000" d="M212 595h5v2h-5z"/>
<path fill="#ba55d3" d="M226 595h4v6h-4z"/>
<path fill="#ff0000" d="M191 597h2v2h-2z"/>
<path fill="#00ffff" d="M193 597h3v2h-3z"/>
<path fill="#ff0000" d="M196 597h7v2h-7z"/>
<path fill="#00bfff" d="M203 597h5v2h-5z"/>
<path fill="#ff0000" d="M208 597h9v2h-9z"/>
<path fill="#00ffff" d="M217 597h5v2h-5z"/>
<path fill="#ff0000" d="M222 597h4v2h-4zM191 599h5v2h-5z"/>
<path fill="#ffb6c1" d="M196 599h3v2h-3z"/>
<path fill="#00bfff" d="M199 599h4v2h-4z"/>
<path fill="#ffb6c1" d="M203 599h5v2h-5z"/>
<path fill="#ff0000" d="M208 599h9v2h-9z"/>
<path fill="#ffb6c1" d="M217 599h5v7h-5z"/>
<path fill="#00bfff" d="M187 601h4v1h-4z"/>
<path fill="#ff0000" d="M191 601h2v1h-2z"/>
<path fill="#00bfff" d="M193 601h10v1h-10z"/>
<path fill="#ff0000" d="M203 601h14v1h-14z"/>
<path fill="#ffb6c1" d="M226 601h4v5h-4z"/>
<path fill="#ff0000" d="M187 602h12v2h-12z"/>
<path fill="#ffb6c1" d="M191 602h2v2h-2z"/>
<path fill="#00bfff" d="M199 602h4v2h-4z"/>
<path fill="#ff0000" d="M203 602h9v2h-9z"/>
<path fill="#ffb6c1" d="M212 602h5v2h-5zM222 602h4v2h-4z"/>
<path fill="#ff0000" d="M184 604h24v2h-24z"/>
<path fill="#ffb6c1" d="M208 604h4v2h-4z"/>
<path fill="#ff0000" d="M212 604h5v2h-5zM222 604h4v2h-4zM184 606h24v2h-24z"/>
<path fill="#00ffff" d="M208 606h4v2h-4z"/>
<path fill="#ff0000" d="M212 606h5v2h-5z"/>
<path fill="#00ffff" d="M226 606h4v2h-4z"/>
<path fill="#ff0000" d="M187 608h16v2h-16z"/>
<path fill="#ffb6c1" d="M203 608h5v2h-5z"/>
<path fill="#00ffff" d="M208 608h4v2h-4z"/>
<path fill="#ff0000" d="M212 608h5v2h-5zM226 608h4v4h-4zM191 610h2v2h-2z"/>
<path fill="#00bfff" d="M193 610h3v2h-3z"/>
<path fill="#ff0000" d="M196 610h7v2h-7zM212 610h10v2h-10z"/>
<path fill="#00bfff" d="M187 612h4v2h-4z"/>
<path fill="#ff0000" d="M191 612h12v2h-12z"/>
<path fill="#00ffff" d="M208 612h4v2h-4z"/>
<path fill="#ff0000" d="M212 612h5v2h-5z"/>
<path fill="#ffb6c1" d="M217 612h5v2h-5z"/>
<path fill="#00bfff" d="M187 614h4v1h-4z"/>
<path fill="#ff0000" d="M191 614h5v1h-5z"/>
<path fill="#00bfff" d="M196 614h3v1h-3z"/>
<path fill="#ff0000" d="M199 614h4v1h-4z"/>
<path fill="#ffd700" d="M203 614h5v1h-5z"/>
<path fill="#ff0000" d="M208 614h14v1h-14zM187 615h4v2h-4z"/>
<path fill="#00bfff" d="M191 615h5v2h-5z"/>
<path fill="#ff0000" d="M196 615h7v2h-7zM208 615h4v2h-4zM191 617h8v2h-8zM208 617h4v2h-4z"/>
<path fill="#ffb6c1" d="M212 617h5v2h-5z"/>
<path fill="#00ffff" d="M187 619h4v2h-4z"/>
<path fill="#ff0000" d="M191 619h5v2h-5zM212 619h5v2h-5zM187 621h4v2h-4z"/>
<path fill="#00ffff" d="M191 621h2v2h-2z"/>
<path fill="#ff0000" d="M184 623h9v2h-9zM184 625h3v3h-3z"/>
<path fill="#00bfff" d="M187 625h4v2h-4z"/>
<path fill="#ff0000" d="M191 625h2v9h-2zM203 625h5v2h-5z"/>
<path fill="#00bfff" d="M184 628h7v4h-7z"/>
<path fill="#ffd700" d="M256 541h4v4h-4z"/>
<path fill="#00ffff" d="M252 543h4v2h-4z"/>
<path fill="#ffd700" d="M252 547h4v2h-4zM256 546h4v1h-4z"/>
<path fill="#00ffff" d="M256 547h4v2h-4z"/>
<path fill="#ffb6c1" d="M256 549h4v1h-4z"/>
<path fill="#00ffff" d="M252 549h4v5h-4z"/>
<path fill="#ffd700" d="M256 550h4v6h-4zM248 552h4v4h-4z"/>
<path fill="#00ffff" d="M248 556h4v2h-4z"/>
<path fill="#ffd700" d="M248 558h4v5h-4zM252 554h4v8h-4z"/>
<path fill="#00ffff" d="M256 556h4v6h-4z"/>
<path fill="#ffd700" d="M252 571h4v2h-4z"/>
<path fill="#008000" d="M252 573h4v2h-4z"/>
<path fill="#00ffff" d="M273 571h4v2h-4z"/>
<path fill="#ffd700" d="M273 573h4v2h-4zM265 575h4v1h-4z"/>
<path fill="#00ffff" d="M265 576h4v2h-4z"/>
<path fill="#ffd700" d="M265 578h4v2h-4zM269 576h4v4h-4z"/>
<path fill="#ba55d3" d="M273 576h4v2h-4z"/>
<path fill="#ffd700" d="M273 578h4v2h-4z"/>
<path fill="#ba55d3" d="M269 580h4v2h-4z"/>
<path fill="#3c3cff" d="M273 580h4v2h-4z"/>
<path fill="#ffd700" d="M269 582h4v2h-4z"/>
<path fill="#00ffff" d="M273 582h4v4h-4z"/>
<path fill="#3c3cff" d="M277 582h3v4h-3z"/>
<path fill="#ba55d3" d="M273 586h7v2h-7z"/>
<path fill="#00ffff" d="M280 580h4v2h-4z"/>
<path fill="#ba55d3" d="M284 578h1v2h-1zM284 582h1v2h-1z"/>
<path fill="#008000" d="M284 567h1v2h-1z"/>
<path fill="#ffb6c1" d="M252 580h4v4h-4z"/>
<path fill="#00ffff" d="M256 580h4v2h-4z"/>
<path fill="#3c3cff" d="M256 582h4v2h-4z"/>
<path fill="#008000" d="M244 582h4v2h-4z"/>
<path fill="#00bfff" d="M244 584h8v2h-8zM244 586h4v2h-4z"/>
<path fill="#ff0000" d="M248 586h4v2h-4z"/>
<path fill="#ba55d3" d="M252 584h8v2h-8z"/>
<path fill="#008000" d="M252 586h4v3h-4z"/>
<path fill="#00ffff" d="M260 584h5v5h-5z"/>
<path fill="#ffd700" d="M265 584h4v3h-4zM269 586h4v3h-4z"/>
<path fill="#008000" d="M232 588h6v1h-6z"/>
<path fill="#ffd700" d="M238 586h6v2h-6z"/>
<path fill="#ba55d3" d="M244 588h4v1h-4z"/>
<path fill="#ffb6c1" d="M226 589h6v2h-6z"/>
<path fill="#ba55d3" d="M226 595h6v6h-6z"/>
<path fill="#ffb6c1" d="M226 601h6v5h-6z"/>
<path fill="#00ffff" d="M226 606h6v2h-6z"/>
<path fill="#ff0000" d="M226 608h6v4h-6z"/>
<path fill="#ffb6c1" d="M232 584h6v4h-6z"/>
<path fill="#008000" d="M232 588h6v1h-6z"/>
<path fill="#ba55d3" d="M232 589h12v2h-12z"/>
<path fill="#ffb6c1" d="M232 591h6v8h-6z"/>
<path fill="#00ffff" d="M232 601h6v5h-6z"/>
<path fill="#ba55d3" d="M232 606h6v4h-6z"/>
<path fill="#ffd700" d="M238 586h6v2h-6z"/>
<path fill="#ff0000" d="M238 591h6v2h-6z"/>
<path fill="#008000" d="M238 593h6v4h-6z"/>
<path fill="#ffb6c1" d="M238 623h6v4h-6zM238 628h6v2h-6z"/>
<path fill="#008000" d="M244 582h4v2h-4z"/>
<path fill="#00bfff" d="M244 584h4v4h-4z"/>
<path fill="#ba55d3" d="M244 588h4v1h-4z"/>
<path fill="#008000" d="M244 589h4v2h-4z"/>
<path fill="#00bfff" d="M244 591h4v2h-4z"/>
<path fill="#008000" d="M244 593h4v2h-4z"/>
<path fill="#ffb6c1" d="M244 595h4v2h-4z"/>
<path fill="#00bfff" d="M248 584h4v2h-4z"/>
<path fill="#ff0000" d="M248 586h4v2h-4z"/>
<path fill="#ffb6c1" d="M252 580h4v4h-4z"/>
<path fill="#ba55d3" d="M252 584h4v2h-4z"/>
<path fill="#008000" d="M252 586h4v5h-4z"/>
<path fill="#ffb6c1" d="M252 621h4v2h-4z"/>
<path fill="#ba55d3" d="M256 584h4v2h-4z"/>
<path fill="#00ffff" d="M260 584h5v5h-5z"/>
<path fill="#ffd700" d="M260 589h5v6h-5zM265 584h4v4h-4zM265 589h4v8h-4z"/>
<path fill="#ba55d3" d="M265 597h4v2h-4z"/>
<path fill="#ffd700" d="M269 586h4v5h-4z"/>
<path fill="#ba55d3" d="M269 591h4v4h-4zM291 541h3v2h-3zM294 549h3v1h-3z"/>
<path fill="#00bfff" d="M297 552h4v2h-4z"/>
<path fill="#ba55d3" d="M297 556h4v2h-4z"/>
<path fill="#ffb6c1" d="M297 558h4v2h-4z"/>
<path fill="#ffd700" d="M297 560h4v2h-4z"/>
<path fill="#3c3cff" d="M297 562h4v1h-4z"/>
<path fill="#ba55d3" d="M297 563h4v2h-4z"/>
<path fill="#ffd700" d="M304 556h3v9h-3z"/>
<path fill="#ffb6c1" d="M287 558h4v2h-4z"/>
<path fill="#ba55d3" d="M291 558h3v7h-3zM294 560h3v3h-3z"/>
<path fill="#ffd700" d="M294 563h3v4h-3z"/>
<path fill="#ba55d3" d="M301 560h3v5h-3z"/>
<path fill="#ffd700" d="M297 565h7v2h-7zM297 567h4v2h-4z"/>
<path fill="#ba55d3" d="M301 567h3v2h-3z"/>
<path fill="#008000" d="M284 567h3v2h-3z"/>
<path fill="#ba55d3" d="M287 567h10v2h-10zM287 569h4v4h-4z"/>
<path fill="#ffb6c1" d="M291 569h3v4h-3z"/>
<path fill="#ba55d3" d="M294 569h7v2h-7zM297 571h4v2h-4z"/>
<path fill="#ffd700" d="M291 573h3v2h-3z"/>
<path fill="#ba55d3" d="M294 573h3v2h-3z"/>
<path fill="#3c3cff" d="M291 575h3v1h-3z"/>
<path fill="#00ffff" d="M294 575h3v1h-3z"/>
<path fill="#ba55d3" d="M297 575h4v1h-4zM287 575h4v3h-4zM291 576h3v12h-3z"/>
<path fill="#ffd700" d="M294 576h3v2h-3z"/>
<path fill="#ba55d3" d="M284 578h3v2h-3z"/>
<path fill="#00ffff" d="M280 580h4v2h-4z"/>
<path fill="#ba55d3" d="M284 582h3v2h-3zM301 578h3v2h-3z"/>
<path fill="#3c3cff" d="M294 580h3v2h-3z"/>
<path fill="#ba55d3" d="M297 580h4v4h-4z"/>
<path fill="#3c3cff" d="M301 580h3v4h-3z"/>
<path fill="#ba55d3" d="M294 582h3v2h-3z"/>
<path fill="#3c3cff" d="M297 584h4v2h-4z"/>
<path fill="#ba55d3" d="M304 582h3v12h-3zM301 584h3v10h-3zM294 586h7v2h-7zM297 588h4v3h-4z"/>
<path fill="#ffd700" d="M307 576h4v2h-4z"/>
<path fill="#ba55d3" d="M307 578h4v4h-4z"/>
<path fill="#ffd700" d="M307 582h4v2h-4z"/>
<path fill="#00bfff" d="M311 569h4v2h-4z"/>
<path fill="#ffd700" d="M311 571h4v2h-4z"/>
<path fill="#ffb6c1" d="M315 567h4v2h-4z"/>
<path fill="#3c3cff" d="M287 588h4v3h-4z"/>
<path fill="#ffd700" d="M291 588h3v1h-3z"/>
<path fill="#3c3cff" d="M319 593h4v1h-4z"/>
<path fill="#ba55d3" d="M304 585h3v16h-3z"/>
<path fill="#ffb6c1" d="M307 595h4v2h-4z"/>
<path fill="#00ffff" d="M307 597h4v2h-4z"/>
<path fill="#3c3cff" d="M319 593h4v2h-4z"/>
<path fill="#ffb6c1" d="M319 595h4v2h-4z"/>
<path fill="#ff0000" d="M191 625h2v11h-2z"/>
<path fill="#ffb6c1" d="M184 634h3v2h-3z"/>
<path fill="#ba55d3" d="M187 634h4v2h-4z"/>
<path fill="#00bfff" d="M184 636h7v2h-7zM187 638h4v2h-4z"/>
<path fill="#ff0000" d="M184 638h3v2h-3zM191 638h2v2h-2zM180 640h7v5h-7z"/>
<path fill="#00bfff" d="M184 641h3v2h-3z"/>
<path fill="#ff0000" d="M187 640h4v3h-4zM187 645h4v2h-4zM184 647h3v4h-3zM187 649h4v2h-4z"/>
<path fill="#00bfff" d="M184 651h3v5h-3zM180 653h4v1h-4z"/>
<path fill="#ff0000" d="M180 654h4v2h-4zM187 653h4v3h-4z"/>
<path fill="#00bfff" d="M180 656h4v4h-4z"/>
<path fill="#ff0000" d="M184 656h3v2h-3z"/>
<path fill="#00bfff" d="M184 662h3v2h-3z"/>
<path fill="#ff0000" d="M177 666h3v1h-3zM184 666h3v1h-3zM169 670h3v1h-3zM160 671h1v2h-1zM169 677h3v2h-3zM146 692h4v1h-4zM157 693h4v2h-4z"/>
<path fill="#ffb6c1" d="M161 701h3v2h-3z"/>
<path fill="#ff0000" d="M146 706h4v2h-4zM154 706h3v2h-3z"/>
<path fill="#ffb6c1" d="M161 706h3v4h-3z"/>
<path fill="#00bfff" d="M119 710h3v2h-3z"/>
<path fill="#ff0000" d="M150 710h4v2h-4z"/>
<path fill="#ffb6c1" d="M154 710h3v2h-3z"/>
<path fill="#ff0000" d="M157 710h4v2h-4z"/>
<path fill="#00ffff" d="M161 710h3v2h-3z"/>
<path fill="#ffb6c1" d="M164 710h1v2h-1zM119 712h3v2h-3z"/>
<path fill="#ff0000" d="M146 712h4v2h-4z"/>
<path fill="#00bfff" d="M150 712h4v2h-4z"/>
<path fill="#00ffff" d="M154 712h3v2h-3z"/>
<path fill="#ff0000" d="M157 712h8v2h-8z"/>
<path fill="#00bfff" d="M131 714h3v2h-3zM154 714h3v4h-3z"/>
<path fill="#ff0000" d="M157 714h4v4h-4z"/>
<path fill="#ffd700" d="M161 714h3v2h-3z"/>
<path fill="#00bfff" d="M164 714h1v2h-1zM124 716h2v2h-2z"/>
<path fill="#ba55d3" d="M128 716h3v2h-3z"/>
<path fill="#ffd700" d="M140 716h3v2h-3z"/>
<path fill="#ffb6c1" d="M150 716h4v2h-4zM161 716h4v2h-4z"/>
<path fill="#ff0000" d="M119 718h3v1h-3zM128 718h3v1h-3zM134 718h3v3h-3zM140 718h3v3h-3z"/>
<path fill="#ffb6c1" d="M143 718h14v1h-14z"/>
<path fill="#ff0000" d="M161 718h3v1h-3z"/>
<path fill="#00ffff" d="M126 719h2v2h-2z"/>
<path fill="#ba55d3" d="M128 719h3v2h-3z"/>
<path fill="#00bfff" d="M131 719h3v2h-3z"/>
<path fill="#00ffff" d="M143 719h3v4h-3z"/>
<path fill="#ff0000" d="M146 719h8v2h-8z"/>
<path fill="#ffb6c1" d="M154 719h3v2h-3z"/>
<path fill="#ffd700" d="M157 719h4v2h-4z"/>
<path fill="#00ffff" d="M161 719h3v2h-3z"/>
<path fill="#ff0000" d="M164 719h1v2h-1z"/>
<path fill="#00ffff" d="M116 721h3v2h-3z"/>
<path fill="#ffb6c1" d="M119 721h5v2h-5z"/>
<path fill="#ba55d3" d="M124 721h2v2h-2z"/>
<path fill="#00ffff" d="M126 721h2v2h-2z"/>
<path fill="#00bfff" d="M128 721h3v2h-3z"/>
<path fill="#ffb6c1" d="M131 721h3v2h-3z"/>
<path fill="#ffd700" d="M134 721h3v2h-3z"/>
<path fill="#ffb6c1" d="M137 721h3v4h-3z"/>
<path fill="#ffd700" d="M140 721h3v4h-3z"/>
<path fill="#ff0000" d="M146 721h11v2h-11z"/>
<path fill="#ffb6c1" d="M157 721h4v2h-4z"/>
<path fill="#ff0000" d="M116 723h3v2h-3z"/>
<path fill="#00ffff" d="M119 723h3v2h-3z"/>
<path fill="#ff0000" d="M122 723h2v2h-2z"/>
<path fill="#ffd700" d="M124 723h2v2h-2z"/>
<path fill="#ff0000" d="M126 723h2v2h-2z"/>
<path fill="#00ffff" d="M128 723h3v2h-3z"/>
<path fill="#ff0000" d="M131 723h6v2h-6z"/>
<path fill="#ffb6c1" d="M143 723h11v2h-11z"/>
<path fill="#ff0000" d="M154 723h3v2h-3z"/>
<path fill="#ba55d3" d="M112 725h4v2h-4z"/>
<path fill="#ffb6c1" d="M116 725h3v2h-3z"/>
<path fill="#00ffff" d="M119 725h3v2h-3z"/>
<path fill="#00bfff" d="M122 725h2v2h-2z"/>
<path fill="#ffd700" d="M124 725h2v2h-2z"/>
<path fill="#00bfff" d="M126 725h2v2h-2z"/>
<path fill="#ffb6c1" d="M128 725h3v2h-3z"/>
<path fill="#00ffff" d="M131 725h3v2h-3z"/>
<path fill="#00bfff" d="M134 725h3v2h-3z"/>
<path fill="#ff0000" d="M137 725h3v2h-3z"/>
<path fill="#ffb6c1" d="M140 725h3v2h-3z"/>
<path fill="#ff0000" d="M143 725h3v2h-3z"/>
<path fill="#ffb6c1" d="M112 727h7v2h-7z"/>
<path fill="#ff0000" d="M119 727h5v2h-5z"/>
<path fill="#ffb6c1" d="M124 727h2v2h-2zM128 727h3v2h-3z"/>
<path fill="#00ffff" d="M131 727h3v2h-3z"/>
<path fill="#ba55d3" d="M134 727h3v2h-3z"/>
<path fill="#00bfff" d="M137 727h3v2h-3z"/>
<path fill="#ffb6c1" d="M140 727h3v2h-3z"/>
<path fill="#ff0000" d="M112 729h4v2h-4z"/>
<path fill="#00bfff" d="M119 729h3v2h-3z"/>
<path fill="#ffb6c1" d="M154 729h3v2h-3z"/>
<path fill="#008000" d="M119 731h3v3h-3z"/>
<path fill="#ff0000" d="M143 731h3v1h-3z"/>
<path fill="#ffb6c1" d="M161 731h3v1h-3z"/>
<path fill="#00ffff" d="M116 732h3v2h-3z"/>
<path fill="#ffd700" d="M150 732h4v2h-4z"/>
<path fill="#3c3cff" d="M116 734h3v2h-3z"/>
<path fill="#00ffff" d="M119 734h3v4h-3z"/>
<path fill="#ff0000" d="M150 734h4v2h-4z"/>
<path fill="#ffb6c1" d="M154 734h3v2h-3z"/>
<path fill="#ff0000" d="M116 736h3v2h-3zM157 679h4v1h-4zM177 686h3v6h-3z"/>
<path fill="#00bfff" d="M177 692h3v1h-3z"/>
<path fill="#ff0000" d="M169 692h3v1h-3z"/>
<path fill="#00ffff" d="M174 693h3v2h-3z"/>
<path fill="#ffb6c1" d="M184 692h3v1h-3z"/>
<path fill="#ff0000" d="M180 693h7v2h-7zM180 695h4v10h-4z"/>
<path fill="#ffb6c1" d="M169 697h3v2h-3z"/>
<path fill="#ff0000" d="M174 697h3v2h-3z"/>
<path fill="#ffb6c1" d="M184 697h3v2h-3z"/>
<path fill="#ff0000" d="M184 699h7v2h-7zM184 701h3v4h-3z"/>
<path fill="#ffb6c1" d="M187 701h4v4h-4z"/>
<path fill="#00bfff" d="M174 701h3v2h-3z"/>
<path fill="#ff0000" d="M177 701h3v2h-3zM172 703h2v2h-2z"/>
<path fill="#ba55d3" d="M177 703h3v2h-3zM184 705h7v1h-7z"/>
<path fill="#3c3cff" d="M172 705h2v1h-2z"/>
<path fill="#00bfff" d="M174 705h3v1h-3z"/>
<path fill="#ffb6c1" d="M177 705h3v1h-3z"/>
<path fill="#3c3cff" d="M180 705h4v5h-4z"/>
<path fill="#ba55d3" d="M169 706h3v2h-3z"/>
<path fill="#ffb6c1" d="M172 706h2v2h-2z"/>
<path fill="#ff0000" d="M174 706h3v2h-3z"/>
<path fill="#00bfff" d="M177 706h3v2h-3z"/>
<path fill="#00ffff" d="M167 708h2v2h-2z"/>
<path fill="#ff0000" d="M172 708h8v2h-8z"/>
<path fill="#ffb6c1" d="M155 710h2v2h-2z"/>
<path fill="#ff0000" d="M157 710h4v8h-4z"/>
<path fill="#00ffff" d="M161 710h3v2h-3z"/>
<path fill="#ffb6c1" d="M164 710h3v2h-3z"/>
<path fill="#ff0000" d="M167 710h2v2h-2z"/>
<path fill="#ffd700" d="M169 710h3v2h-3z"/>
<path fill="#ff0000" d="M172 710h12v2h-12z"/>
<path fill="#00ffff" d="M155 712h2v2h-2z"/>
<path fill="#ff0000" d="M161 712h8v2h-8z"/>
<path fill="#00ffff" d="M169 712h3v2h-3z"/>
<path fill="#ffb6c1" d="M172 712h2v2h-2z"/>
<path fill="#ff0000" d="M174 712h6v2h-6z"/>
<path fill="#00bfff" d="M155 714h2v4h-2z"/>
<path fill="#ffd700" d="M161 714h3v2h-3z"/>
<path fill="#00bfff" d="M164 714h3v2h-3z"/>
<path fill="#ff0000" d="M167 714h10v2h-10z"/>
<path fill="#ffd700" d="M177 714h3v2h-3z"/>
<path fill="#ff0000" d="M180 714h4v2h-4z"/>
<path fill="#ffb6c1" d="M161 716h6v2h-6z"/>
<path fill="#00ffff" d="M167 716h2v2h-2z"/>
<path fill="#ff0000" d="M169 716h5v2h-5z"/>
<path fill="#ffb6c1" d="M155 718h2v3h-2z"/>
<path fill="#ff0000" d="M161 718h3v1h-3z"/>
<path fill="#ffd700" d="M157 719h4v2h-4z"/>
<path fill="#00ffff" d="M161 719h3v2h-3z"/>
<path fill="#ff0000" d="M164 719h3v2h-3zM155 721h2v4h-2z"/>
<path fill="#ffb6c1" d="M157 721h4v2h-4zM167 721h2v2h-2z"/>
<path fill="#ff0000" d="M169 721h3v2h-3z"/>
<path fill="#ffb6c1" d="M177 721h3v4h-3z"/>
<path fill="#00ffff" d="M169 727h3v2h-3z"/>
<path fill="#008000" d="M184 719h3v6h-3z"/>
<path fill="#ffd700" d="M191 714h2v4h-2zM193 716h3v2h-3z"/>
<path fill="#00ffff" d="M191 718h2v1h-2z"/>
<path fill="#008000" d="M193 718h3v1h-3zM191 719h5v2h-5z"/>
<path fill="#ba55d3" d="M199 712h4v2h-4z"/>
<path fill="#008000" d="M199 714h4v4h-4z"/>
<path fill="#ffd700" d="M203 710h5v2h-5z"/>
<path fill="#00ffff" d="M203 714h5v2h-5z"/>
<path fill="#008000" d="M208 708h4v6h-4zM212 712h3v2h-3zM212 712h5v2h-5zM217 706h5v4h-5z"/>
</g>
<path id="grid" fill="#b0b0b0" d="M138 101h1v692h-1zM230 101h1v692h-1zM323 101h1v692h-1zM415 101h1v692h-1zM508 101h1v692h-1zM600 101h1v692h-1zM692 101h1v692h-1zM93 669h692v1h-692zM93 545h692v1h-692zM93 421h692v1h-692zM93 298h692v1h-692zM93 174h692v1h-692z"/>
<path id="spines" fill="#000" d="M92 100h694v1h-694zM92 793h694v1h-694zM92 100h1v694h-1zM785 100h1v694h-1z"/>
<path id="majticks" fill="#000" d="M138 794h1v4.6h-1zM230 794h1v4.6h-1zM323 794h1v4.6h-1zM415 794h1v4.6h-1zM508 794h1v4.6h-1zM600 794h1v4.6h-1zM692 794h1v4.6h-1zM785 794h1v4.6h-1zM87.3 793h4.7v1h-4.7zM87.3 669h4.7v1h-4.7zM87.3 545h4.7v1h-4.7zM87.3 421h4.7v1h-4.7zM87.3 298h4.7v1h-4.7zM87.3 174h4.7v1h-4.7z"/>
<path id="minticks" fill="#000" d="M92.05 794h0.9v2.7h-0.9zM115.05 794h0.9v2.7h-0.9zM161.05 794h0.9v2.7h-0.9zM184.05 794h0.9v2.7h-0.9zM207.05 794h0.9v2.7h-0.9zM253.05 794h0.9v2.7h-0.9zM277.05 794h0.9v2.7h-0.9zM300.05 794h0.9v2.7h-0.9zM346.05 794h0.9v2.7h-0.9zM369.05 794h0.9v2.7h-0.9zM392.05 794h0.9v2.7h-0.9zM438.05 794h0.9v2.7h-0.9zM461.05 794h0.9v2.7h-0.9zM484.05 794h0.9v2.7h-0.9zM531.05 794h0.9v2.7h-0.9zM554.05 794h0.9v2.7h-0.9zM577.05 794h0.9v2.7h-0.9zM623.05 794h0.9v2.7h-0.9zM646.05 794h0.9v2.7h-0.9zM669.05 794h0.9v2.7h-0.9zM716.05 794h0.9v2.7h-0.9zM739.05 794h0.9v2.7h-0.9zM762.05 794h0.9v2.7h-0.9zM89.3 762.05h2.7v0.9h-2.7zM89.3 731.05h2.7v0.9h-2.7zM89.3 700.05h2.7v0.9h-2.7zM89.3 638.05h2.7v0.9h-2.7zM89.3 607.05h2.7v0.9h-2.7zM89.3 576.05h2.7v0.9h-2.7zM89.3 514.05h2.7v0.9h-2.7zM89.3 483.05h2.7v0.9h-2.7zM89.3 452.05h2.7v0.9h-2.7zM89.3 390.05h2.7v0.9h-2.7zM89.3 359.05h2.7v0.9h-2.7zM89.3 329.05h2.7v0.9h-2.7zM89.3 267.05h2.7v0.9h-2.7zM89.3 236.05h2.7v0.9h-2.7zM89.3 205.05h2.7v0.9h-2.7zM89.3 143.05h2.7v0.9h-2.7zM89.3 112.05h2.7v0.9h-2.7z"/>
<rect x="817" y="82" width="29" height="90" fill="#00bfff"/>
<rect x="817" y="172" width="29" height="90" fill="#00ffff"/>
<rect x="817" y="262" width="29" height="90" fill="#ffd700"/>
<rect x="817" y="352" width="29" height="90" fill="#ffb6c1"/>
<rect x="817" y="442" width="29" height="90" fill="#ba55d3"/>
<rect x="817" y="532" width="29" height="90" fill="#3c3cff"/>
<rect x="817" y="622" width="29" height="90" fill="#ff0000"/>
<rect x="817" y="712" width="29" height="90" fill="#008000"/>
<path id="cbframe" fill="#000" d="M816 82h31v1h-31zM816 801.9h31v1h-31zM816 82h1v720.8h-1zM846 82h1v720.8h-1z"/>
<path id="cbticks" fill="#000" d="M847 127h4.8v1h-4.8zM847 217h4.8v1h-4.8zM847 307h4.8v1h-4.8zM847 397h4.8v1h-4.8zM847 487h4.8v1h-4.8zM847 577h4.8v1h-4.8zM847 667h4.8v1h-4.8zM847 757h4.8v1h-4.8zM847 82.05h2.7v0.9h-2.7zM847 172.05h2.7v0.9h-2.7zM847 262.05h2.7v0.9h-2.7zM847 352.05h2.7v0.9h-2.7zM847 442.05h2.7v0.9h-2.7zM847 532.05h2.7v0.9h-2.7zM847 622.05h2.7v0.9h-2.7zM847 712.05h2.7v0.9h-2.7zM847 801.85h2.7v0.9h-2.7z"/>
<g font-family="'Liberation Sans', sans-serif" fill="#000" opacity="0.999">
<text y="31.9" font-size="31.9104"><tspan x="157.9" textLength="57.29" lengthAdjust="spacingAndGlyphs">NAL</tspan> <tspan x="224.35" textLength="70.48" lengthAdjust="spacingAndGlyphs">CADI</tspan> <tspan x="303.98" textLength="10.39" lengthAdjust="spacingAndGlyphs">-</tspan> <tspan x="323.53" textLength="34.75" lengthAdjust="spacingAndGlyphs">Jul</tspan> <tspan x="367.43" textLength="36.65" lengthAdjust="spacingAndGlyphs">08</tspan> <tspan x="413.23" textLength="129.35" lengthAdjust="spacingAndGlyphs">03:45:00</tspan> <tspan x="551.73" textLength="73.3" lengthAdjust="spacingAndGlyphs">2025</tspan> <tspan x="634.18" textLength="57.09" lengthAdjust="spacingAndGlyphs">UTC</tspan></text>
<text y="841.8" font-size="25.92"><tspan x="337.2" textLength="123.98" lengthAdjust="spacingAndGlyphs">Frequency</tspan> <tspan x="468.81" textLength="70.08" lengthAdjust="spacingAndGlyphs">(MHz)</tspan></text>
<g transform="translate(28.1,559.9) rotate(-90)"><text y="0" font-size="25.92"><tspan x="0" textLength="78.41" lengthAdjust="spacingAndGlyphs">Virtual</tspan> <tspan x="86.03" textLength="76.5" lengthAdjust="spacingAndGlyphs">height</tspan> <tspan x="170.16" textLength="56" lengthAdjust="spacingAndGlyphs">(km)</tspan></text></g>
<g transform="translate(942.9,549.9) rotate(-90)"><text y="0" font-size="25.92"><tspan x="0" textLength="98.89" lengthAdjust="spacingAndGlyphs">Azimuth</tspan> <tspan x="106.52" textLength="108.41" lengthAdjust="spacingAndGlyphs">Direction</tspan></text></g>
<text x="81.9" y="799" font-size="16.3366" textLength="10.229" lengthAdjust="spacingAndGlyphs" text-anchor="end">0</text>
<text x="81.9" y="675" font-size="16.3366" textLength="30.6966" lengthAdjust="spacingAndGlyphs" text-anchor="end">200</text>
<text x="81.9" y="551" font-size="16.3366" textLength="30.6966" lengthAdjust="spacingAndGlyphs" text-anchor="end">400</text>
<text x="81.9" y="427" font-size="16.3366" textLength="30.6966" lengthAdjust="spacingAndGlyphs" text-anchor="end">600</text>
<text x="81.9" y="304" font-size="16.3366" textLength="30.6966" lengthAdjust="spacingAndGlyphs" text-anchor="end">800</text>
<text x="81.9" y="180" font-size="16.3366" textLength="40.9353" lengthAdjust="spacingAndGlyphs" text-anchor="end">1000</text>
<text x="138.5" y="814.9" font-size="16.3366" textLength="10.229" lengthAdjust="spacingAndGlyphs" text-anchor="middle">2</text>
<text x="230.5" y="814.9" font-size="16.3366" textLength="10.229" lengthAdjust="spacingAndGlyphs" text-anchor="middle">4</text>
<text x="323.5" y="814.9" font-size="16.3366" textLength="10.229" lengthAdjust="spacingAndGlyphs" text-anchor="middle">6</text>
<text x="415.5" y="814.9" font-size="16.3366" textLength="10.229" lengthAdjust="spacingAndGlyphs" text-anchor="middle">8</text>
<text x="508.5" y="814.9" font-size="16.3366" textLength="20.4676" lengthAdjust="spacingAndGlyphs" text-anchor="middle">10</text>
<text x="600.5" y="814.9" font-size="16.3366" textLength="20.4676" lengthAdjust="spacingAndGlyphs" text-anchor="middle">12</text>
<text x="692.5" y="814.9" font-size="16.3366" textLength="20.4676" lengthAdjust="spacingAndGlyphs" text-anchor="middle">14</text>
<text x="785.5" y="814.9" font-size="16.3366" textLength="20.4676" lengthAdjust="spacingAndGlyphs" text-anchor="middle">16</text>
<text x="855.6" y="133" font-size="16.3366" textLength="35.1153" lengthAdjust="spacingAndGlyphs" text-anchor="start">NNE</text>
<text x="855.6" y="223" font-size="16.3366" textLength="10.4247" lengthAdjust="spacingAndGlyphs" text-anchor="start">E</text>
<text x="855.6" y="313" font-size="16.3366" textLength="31.3731" lengthAdjust="spacingAndGlyphs" text-anchor="start">SSE</text>
<text x="855.6" y="403" font-size="16.3366" textLength="37.2636" lengthAdjust="spacingAndGlyphs" text-anchor="start">SSW</text>
<text x="855.6" y="493" font-size="16.3366" textLength="16.3152" lengthAdjust="spacingAndGlyphs" text-anchor="start">W</text>
<text x="855.6" y="583" font-size="16.3366" textLength="41.0058" lengthAdjust="spacingAndGlyphs" text-anchor="start">NNW</text>
<text x="855.6" y="673" font-size="16.3366" textLength="61.7661" lengthAdjust="spacingAndGlyphs" text-anchor="start">Vertical</text>
<text x="855.6" y="763" font-size="16.3366" textLength="63.2214" lengthAdjust="spacingAndGlyphs" text-anchor="start">X-mode</text>
</g>
</svg>
</body></html>
